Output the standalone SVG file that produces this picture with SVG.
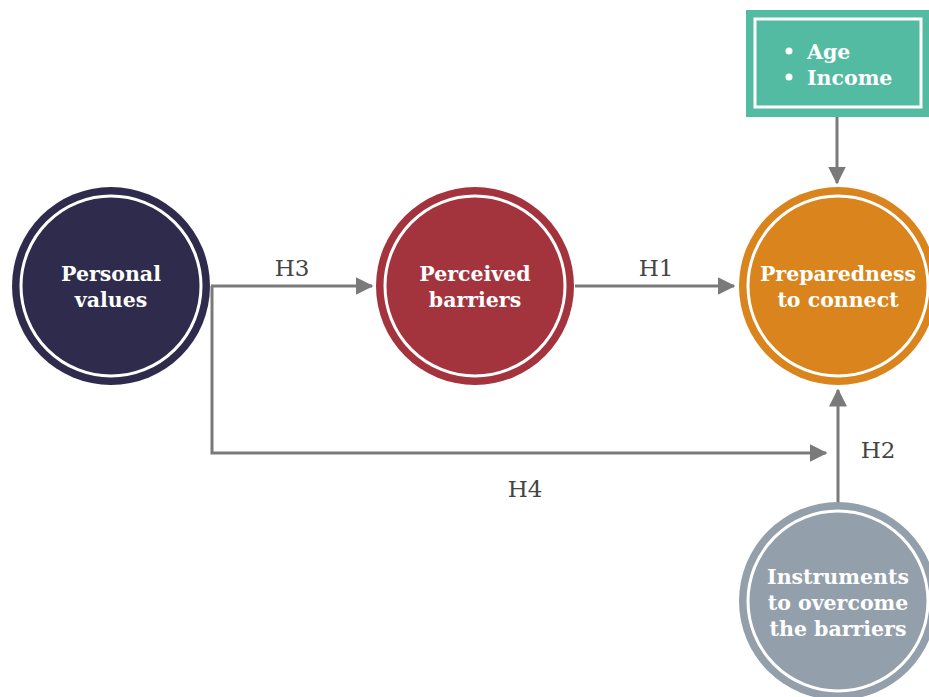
<svg xmlns="http://www.w3.org/2000/svg" width="929" height="697" viewBox="0 0 929 697">
  <defs>
    <marker id="arrow" markerWidth="6" markerHeight="6" refX="5.5" refY="3" orient="auto" markerUnits="strokeWidth">
      <path d="M0,0 L6,3 L0,6 Z" fill="#7a7a7a"/>
    </marker>
  </defs>
  <style>
    .ring { fill: none; stroke: #ffffff; stroke-width: 3; }
    .label { font-family: "DejaVu Serif", "Liberation Serif", serif; font-weight: bold; font-size: 20.5px; fill: #ffffff; text-anchor: middle; }
    .hyp { font-family: "DejaVu Serif", "Liberation Serif", serif; font-size: 23px; fill: #444444; text-anchor: middle; }
    .conn { fill: none; stroke: #7a7a7a; stroke-width: 3; marker-end: url(#arrow); }
  </style>
  <rect width="929" height="697" fill="#ffffff"/>

  <g id="connectors">
    <path class="conn" d="M211,286 L372,286"/>
    <path class="conn" d="M575,286 L734,286"/>
    <path class="conn" d="M212,286 L212,453 L826,453"/>
    <path class="conn" d="M837,117 L837,183"/>
    <path class="conn" d="M838,503 L838,390"/>
    <text class="hyp" x="292" y="276">H3</text>
    <text class="hyp" x="656" y="276">H1</text>
    <text class="hyp" x="525" y="497">H4</text>
    <text class="hyp" x="878" y="458">H2</text>
  </g>

  <g id="personal-values">
    <circle cx="111" cy="286" r="99" fill="#2e2b4c"/>
    <circle class="ring" cx="111" cy="286" r="90"/>
    <text class="label" x="111" y="281">Personal</text>
    <text class="label" x="111" y="307">values</text>
  </g>

  <g id="perceived-barriers">
    <circle cx="475" cy="286" r="99" fill="#a3343d"/>
    <circle class="ring" cx="475" cy="286" r="90"/>
    <text class="label" x="475" y="281">Perceived</text>
    <text class="label" x="475" y="307">barriers</text>
  </g>

  <g id="preparedness">
    <circle cx="838" cy="286" r="99" fill="#d9841c"/>
    <circle class="ring" cx="838" cy="286" r="90"/>
    <text class="label" x="838" y="281">Preparedness</text>
    <text class="label" x="838" y="307">to connect</text>
  </g>

  <g id="instruments">
    <circle cx="838" cy="601" r="99" fill="#939fab"/>
    <circle class="ring" cx="838" cy="601" r="90"/>
    <text class="label" x="838" y="584">Instruments</text>
    <text class="label" x="838" y="610">to overcome</text>
    <text class="label" x="838" y="636">the barriers</text>
  </g>

  <g id="controls">
    <rect x="746" y="10" width="190" height="107" fill="#52bba2"/>
    <rect x="755" y="19" width="166" height="88" fill="none" stroke="#ffffff" stroke-width="3"/>
    <circle cx="789" cy="51" r="3.5" fill="#ffffff"/>
    <circle cx="789" cy="77" r="3.5" fill="#ffffff"/>
    <text class="label" x="807" y="59" style="text-anchor:start">Age</text>
    <text class="label" x="807" y="85" style="text-anchor:start">Income</text>
  </g>
</svg>
